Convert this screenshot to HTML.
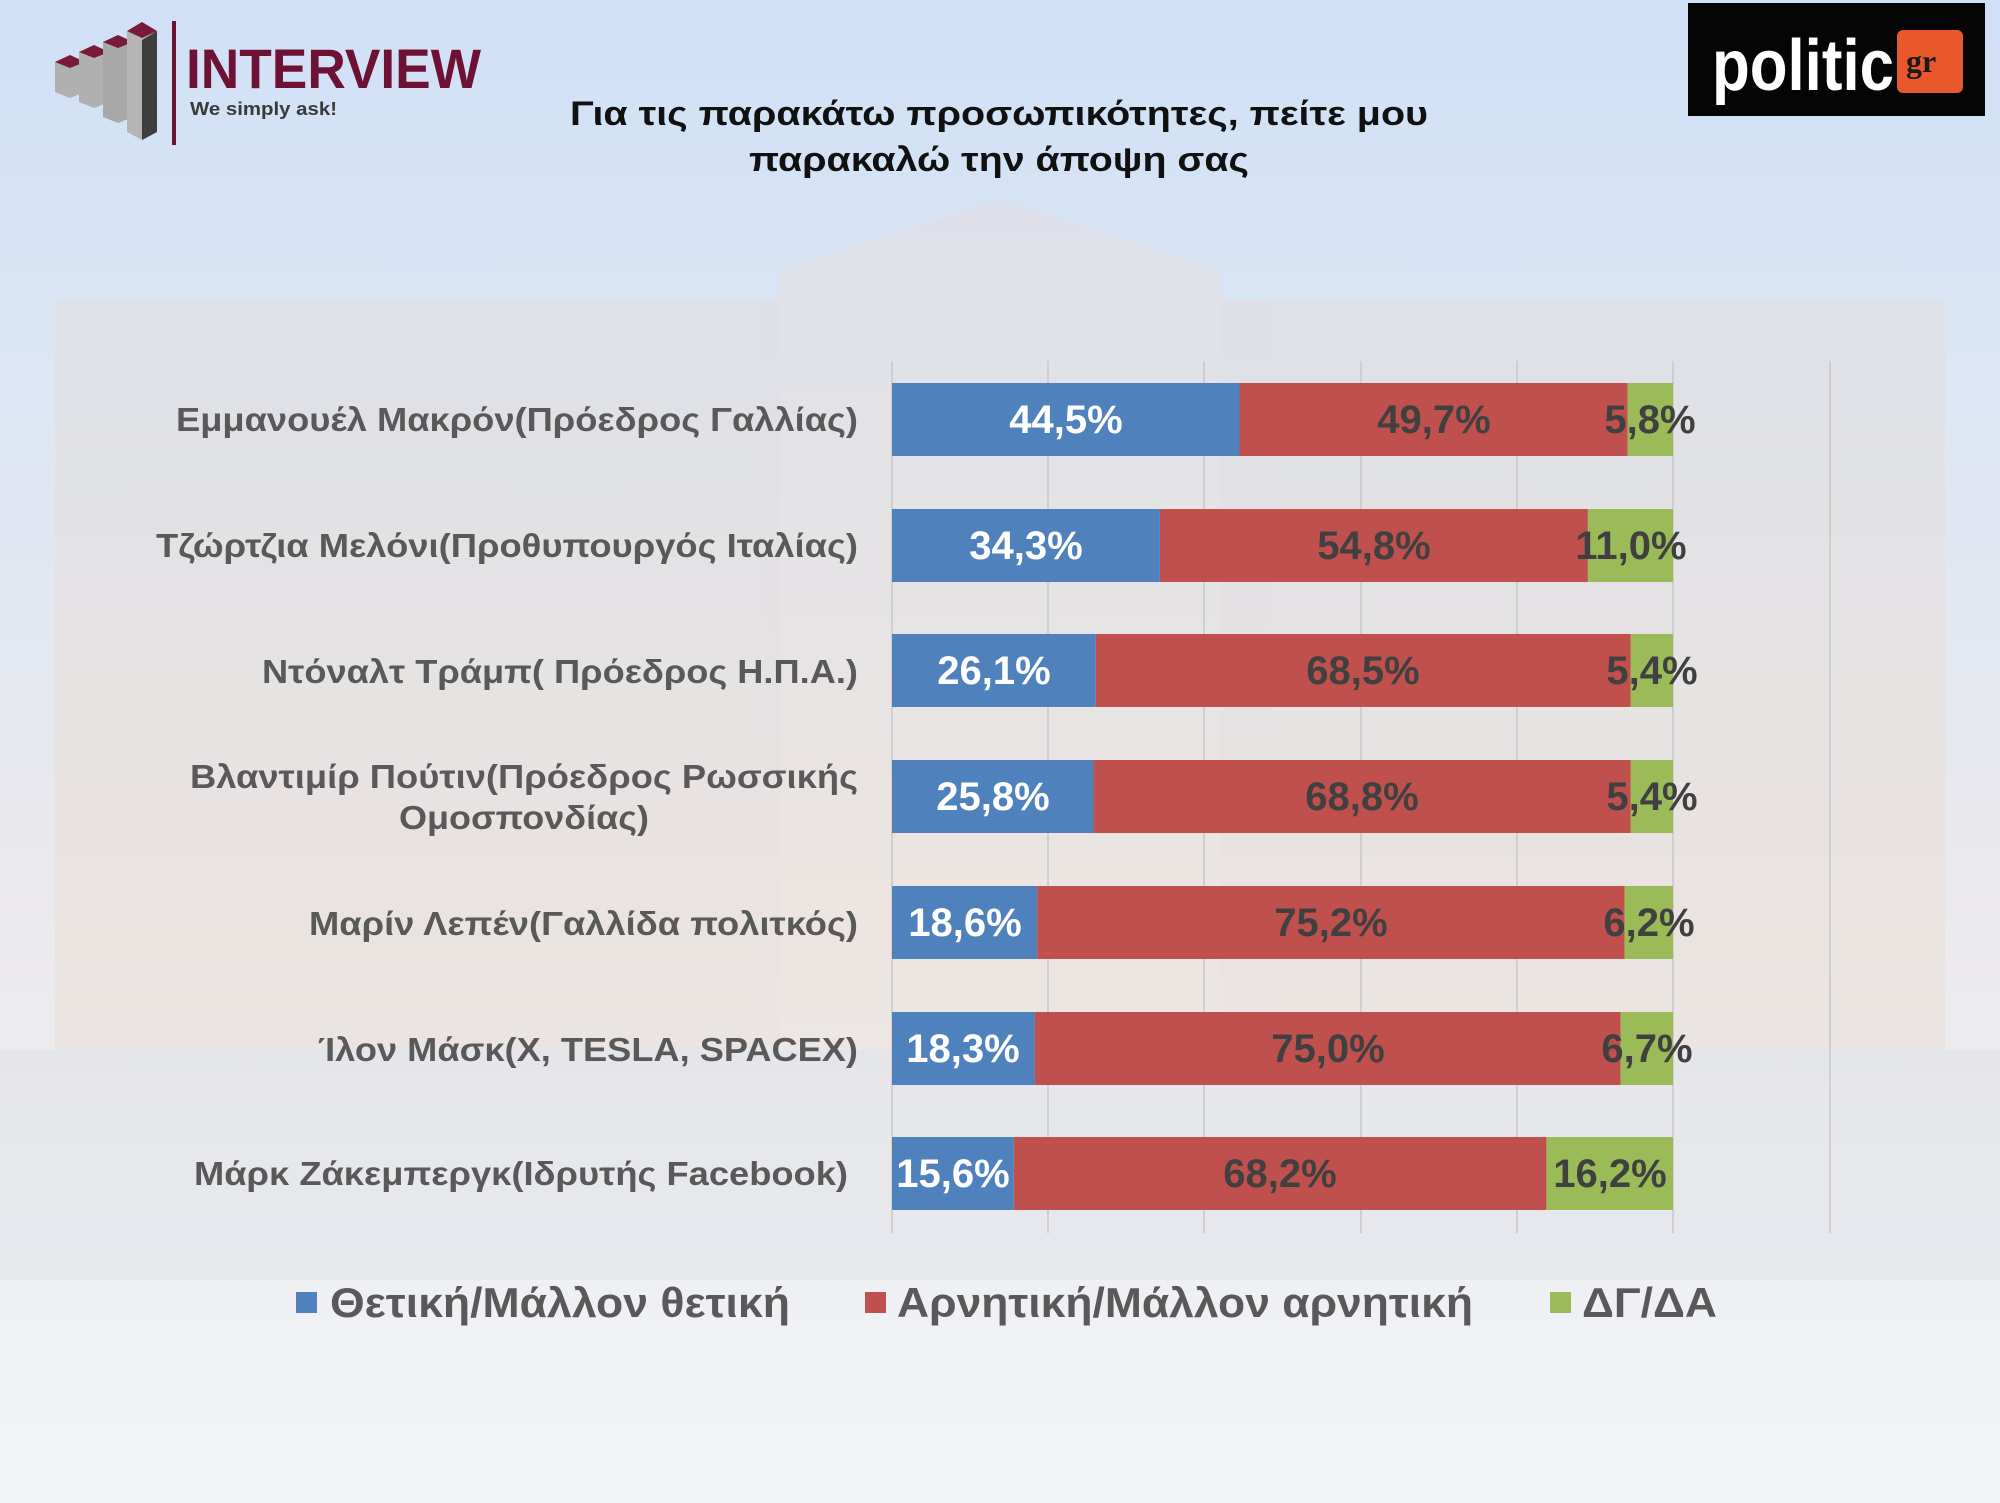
<!DOCTYPE html>
<html><head><meta charset="utf-8"><style>
html,body{margin:0;padding:0;width:2000px;height:1503px;overflow:hidden;}
svg{display:block;font-family:"Liberation Sans","Noto Sans CJK SC",sans-serif;}
</style></head><body>
<svg width="2000" height="1503" viewBox="0 0 2000 1503" xmlns="http://www.w3.org/2000/svg">
<defs>
<linearGradient id="bg" x1="0" y1="0" x2="0" y2="1">
<stop offset="0" stop-color="#d0e0f6"/>
<stop offset="0.25" stop-color="#dce6f4"/>
<stop offset="0.6" stop-color="#ebe9ec"/>
<stop offset="0.85" stop-color="#eef0f4"/>
<stop offset="1" stop-color="#f2f4f8"/>
</linearGradient>
</defs>
<rect width="2000" height="1503" fill="url(#bg)"/>
<g opacity="0.3">
<rect x="55" y="300" width="1890" height="960" fill="#e8d6c8"/>
<rect x="780" y="270" width="440" height="990" fill="#efdccc"/>
<polygon points="780,270 1000,200 1220,270" fill="#efdccc"/>
<rect x="0" y="1050" width="2000" height="230" fill="#d8dbe0"/>
</g>
<g>
<polygon points="55,62 70,55 85,62 85,92 70,98 55,92" fill="#b0b0b0"/>
<polygon points="55,62 70,55 85,62 70,68" fill="#7a1a3a"/>
<polygon points="79,52 94,45 109,52 109,102 94,108 79,102" fill="#b0b0b0"/>
<polygon points="79,52 94,45 109,52 94,58" fill="#7a1a3a"/>
<polygon points="103,42 118,35 133,42 133,117 118,123 103,117" fill="#a8a8a8"/>
<polygon points="103,42 118,35 133,42 118,48" fill="#7a1a3a"/>
<polygon points="127,31 142,22 157,31 157,132 142,140 127,132" fill="#b5b5b5"/>
<polygon points="142,40 157,31 157,132 142,140" fill="#3e3e3e"/>
<polygon points="127,31 142,22 157,31 142,38" fill="#7a1a3a"/>
<rect x="172" y="21" width="4" height="124" fill="#6e1235"/>
<text x="186" y="88" font-size="56" font-weight="bold" fill="#6e1235" textLength="295" lengthAdjust="spacingAndGlyphs">INTERVIEW</text>
<text x="190" y="115" font-size="18" font-weight="bold" fill="#3a3a3a" textLength="147" lengthAdjust="spacingAndGlyphs">We simply ask!</text>
</g>
<rect x="1688" y="3" width="297" height="113" fill="#050505"/>
<rect x="1897" y="30" width="66" height="63" rx="6" fill="#e8582a"/>
<text x="1712" y="90" font-size="72" font-weight="bold" fill="#ffffff" textLength="182" lengthAdjust="spacingAndGlyphs">politic</text>
<text x="1906" y="72" font-size="32" font-weight="bold" fill="#1a1a1a" font-family="Liberation Serif,serif">gr</text>
<text x="999" y="125" font-size="34" font-weight="bold" fill="#111" text-anchor="middle" textLength="858" lengthAdjust="spacingAndGlyphs">Για τις παρακάτω προσωπικότητες, πείτε μου</text>
<text x="999" y="171" font-size="34" font-weight="bold" fill="#111" text-anchor="middle" textLength="500" lengthAdjust="spacingAndGlyphs">παρακαλώ την άποψη σας</text>
<g stroke="#c8c8c8" stroke-width="1.5">
<line x1="892" y1="361" x2="892" y2="1233"/>
<line x1="1048" y1="361" x2="1048" y2="1233"/>
<line x1="1204" y1="361" x2="1204" y2="1233"/>
<line x1="1361" y1="361" x2="1361" y2="1233"/>
<line x1="1517" y1="361" x2="1517" y2="1233"/>
<line x1="1673" y1="361" x2="1673" y2="1233"/>
<line x1="1830" y1="361" x2="1830" y2="1233"/>
</g>
<g font-weight="bold" font-size="40" text-anchor="middle">
<rect x="892" y="383" width="347.5" height="73" fill="#4f81bd"/>
<rect x="1239.5" y="383" width="388.2" height="73" fill="#c0504d"/>
<rect x="1627.7" y="383" width="45.3" height="73" fill="#9bbb59"/>
<text x="1066" y="433" fill="#fff">44,5%</text><text x="1434" y="433" fill="#404040">49,7%</text><text x="1650" y="433" fill="#404040">5,8%</text>
<rect x="892" y="509" width="267.9" height="73" fill="#4f81bd"/>
<rect x="1159.9" y="509" width="428" height="73" fill="#c0504d"/>
<rect x="1587.9" y="509" width="85.1" height="73" fill="#9bbb59"/>
<text x="1026" y="559" fill="#fff">34,3%</text><text x="1374" y="559" fill="#404040">54,8%</text><text x="1631" y="559" fill="#404040">11,0%</text>
<rect x="892" y="634" width="203.8" height="73" fill="#4f81bd"/>
<rect x="1095.8" y="634" width="535" height="73" fill="#c0504d"/>
<rect x="1630.8" y="634" width="42.2" height="73" fill="#9bbb59"/>
<text x="994" y="684" fill="#fff">26,1%</text><text x="1363" y="684" fill="#404040">68,5%</text><text x="1652" y="684" fill="#404040">5,4%</text>
<rect x="892" y="760" width="201.5" height="73" fill="#4f81bd"/>
<rect x="1093.5" y="760" width="537.3" height="73" fill="#c0504d"/>
<rect x="1630.8" y="760" width="42.2" height="73" fill="#9bbb59"/>
<text x="993" y="810" fill="#fff">25,8%</text><text x="1362" y="810" fill="#404040">68,8%</text><text x="1652" y="810" fill="#404040">5,4%</text>
<rect x="892" y="886" width="145.3" height="73" fill="#4f81bd"/>
<rect x="1037.3" y="886" width="587.3" height="73" fill="#c0504d"/>
<rect x="1624.6" y="886" width="48.4" height="73" fill="#9bbb59"/>
<text x="965" y="936" fill="#fff">18,6%</text><text x="1331" y="936" fill="#404040">75,2%</text><text x="1649" y="936" fill="#404040">6,2%</text>
<rect x="892" y="1012" width="142.9" height="73" fill="#4f81bd"/>
<rect x="1034.9" y="1012" width="585.8" height="73" fill="#c0504d"/>
<rect x="1620.7" y="1012" width="52.3" height="73" fill="#9bbb59"/>
<text x="963" y="1062" fill="#fff">18,3%</text><text x="1328" y="1062" fill="#404040">75,0%</text><text x="1647" y="1062" fill="#404040">6,7%</text>
<rect x="892" y="1137" width="121.8" height="73" fill="#4f81bd"/>
<rect x="1013.8" y="1137" width="532.6" height="73" fill="#c0504d"/>
<rect x="1546.4" y="1137" width="126.6" height="73" fill="#9bbb59"/>
<text x="953" y="1187" fill="#fff">15,6%</text><text x="1280" y="1187" fill="#404040">68,2%</text><text x="1610" y="1187" fill="#404040">16,2%</text>
</g>
<g font-weight="bold" font-size="33" fill="#595959" text-anchor="end">
<text x="858" y="431" textLength="682" lengthAdjust="spacingAndGlyphs">Εμμανουέλ Μακρόν(Πρόεδρος Γαλλίας)</text>
<text x="858" y="557" textLength="702" lengthAdjust="spacingAndGlyphs">Τζώρτζια Μελόνι(Προθυπουργός Ιταλίας)</text>
<text x="858" y="683" textLength="596" lengthAdjust="spacingAndGlyphs">Ντόναλτ Τράμπ( Πρόεδρος Η.Π.Α.)</text>
<text x="524" y="788" text-anchor="middle" textLength="668" lengthAdjust="spacingAndGlyphs">Βλαντιμίρ Πούτιν(Πρόεδρος Ρωσσικής</text>
<text x="524" y="829" text-anchor="middle" textLength="250" lengthAdjust="spacingAndGlyphs">Ομοσπονδίας)</text>
<text x="858" y="935" textLength="549" lengthAdjust="spacingAndGlyphs">Μαρίν Λεπέν(Γαλλίδα πολιτκός)</text>
<text x="858" y="1061" textLength="540" lengthAdjust="spacingAndGlyphs">Ίλον Μάσκ(X, TESLA, SPACEX)</text>
<text x="848" y="1185" textLength="654" lengthAdjust="spacingAndGlyphs">Μάρκ Ζάκεμπεργκ(Ιδρυτής Facebook)</text>
</g>
<g font-weight="bold" font-size="42" fill="#595959">
<rect x="296" y="1292" width="21" height="21" fill="#4f81bd"/>
<text x="330" y="1317" textLength="460" lengthAdjust="spacingAndGlyphs">Θετική/Μάλλον θετική</text>
<rect x="865" y="1292" width="21" height="21" fill="#c0504d"/>
<text x="897" y="1317" textLength="576" lengthAdjust="spacingAndGlyphs">Αρνητική/Μάλλον αρνητική</text>
<rect x="1550" y="1292" width="21" height="21" fill="#9bbb59"/>
<text x="1582" y="1317" textLength="135" lengthAdjust="spacingAndGlyphs">ΔΓ/ΔΑ</text>
</g>
</svg>
</body></html>
